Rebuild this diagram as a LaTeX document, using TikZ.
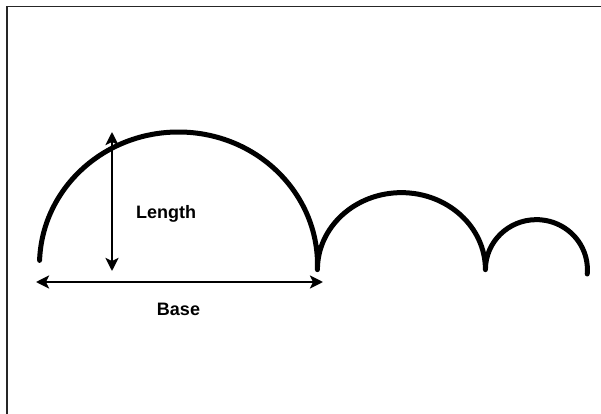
\documentclass[tikz,border=0pt]{standalone}
\usepackage{fontspec}
\setmainfont{Liberation Sans}
\usepackage{tikz}
\usetikzlibrary{arrows.meta,positioning}

\begin{document}
\begin{tikzpicture}[x=1pt,y=1pt,
   arch/.style={line width=5pt,line cap=round,line join=round},
   dimarrow/.style={line width=2.8pt,{Stealth[length=13pt,width=13pt,inset=3pt]}-{Stealth[length=13pt,width=13pt,inset=3pt]}},
   lbl/.style={inner sep=0pt,font=\fontsize{18}{20}\selectfont\bfseries}]
  \useasboundingbox (0,0) rectangle (601,-414);
  % frame (top and left edge only)
  \draw[line width=1.2pt,black!85] (601,-6.5) -- (7,-6.5) -- (7,-414);
  % bouncing arcs
  \draw[arch] (178.5,-265) ++(178:139 and 133) arc[start angle=178,end angle=-2,x radius=139,y radius=133]
     arc[start angle=180,end angle=0,x radius=84,y radius=77]
     arc[start angle=180,end angle=-5,x radius=51,y radius=50];
  % dimension arrows
  \coordinate (lenTop) at (112,-132);
  \coordinate (lenBot) at (112,-271);
  \coordinate (baseL) at (36,-282);
  \coordinate (baseR) at (323,-282);
  \draw[dimarrow] (lenTop) -- (lenBot);
  \draw[dimarrow] (baseL) -- (baseR);
  % labels
  \node[lbl,anchor=base west] (length) at (136,-218.5) {Length};
  \node[lbl,anchor=base] (base) at (178.5,-315) {Base};
\end{tikzpicture}
\end{document}
